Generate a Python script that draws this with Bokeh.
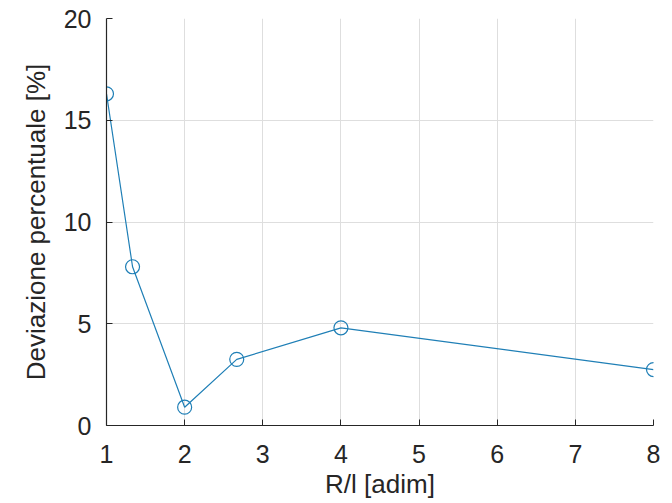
from bokeh.plotting import figure
from bokeh.embed import file_html
from bokeh.resources import INLINE
from bokeh.models import Range1d, FixedTicker

x_vals = [1.0, 4/3, 2.0, 8/3, 4.0, 8.0]
y_vals = [16.3, 7.8, 0.9, 3.25, 4.8, 2.75]
x_ticks = [1, 2, 3, 4, 5, 6, 7, 8]
y_ticks = [0, 5, 10, 15, 20]

color = "#1f7fb6"
font = "Liberation Sans"

p = figure(width=672, height=503, output_backend="svg", toolbar_location=None,
           x_range=Range1d(1, 8), y_range=Range1d(0, 20),
           min_border_left=106, min_border_right=19, min_border_top=18, min_border_bottom=78)
p.outline_line_color = None
p.background_fill_color = "white"
p.border_fill_color = "white"

p.line(x_vals, y_vals, line_color=color, line_width=1.2)
p.scatter(x_vals, y_vals, marker="circle", size=14, fill_color=None, line_color=color, line_width=1.2)

for ax in (p.xaxis[0], p.yaxis[0]):
    ax.axis_line_color = "#262626"
    ax.axis_line_width = 1.2
    ax.major_tick_line_color = "#262626"
    ax.major_tick_in = 6
    ax.major_tick_out = 0
    ax.minor_tick_line_color = None
    ax.major_label_text_font = font
    ax.major_label_text_font_size = "25px"
    ax.major_label_text_color = "#262626"
    ax.axis_label_text_font = font
    ax.axis_label_text_font_size = "26px"
    ax.axis_label_text_font_style = "normal"
    ax.axis_label_text_color = "#262626"

p.xaxis[0].major_label_standoff = 19
p.yaxis[0].major_label_standoff = 15
p.xaxis[0].ticker = FixedTicker(ticks=x_ticks)
p.yaxis[0].ticker = FixedTicker(ticks=y_ticks)
p.xaxis[0].axis_label = "R/l [adim]"
p.yaxis[0].axis_label = "Deviazione percentuale [%]"
p.xaxis[0].axis_label_standoff = 3
p.yaxis[0].axis_label_standoff = 10

p.xgrid.grid_line_color = "#dedede"
p.ygrid.grid_line_color = "#dedede"
p.xgrid.grid_line_width = 1
p.ygrid.grid_line_width = 1

open("out.html", "w").write(file_html(p, INLINE))
